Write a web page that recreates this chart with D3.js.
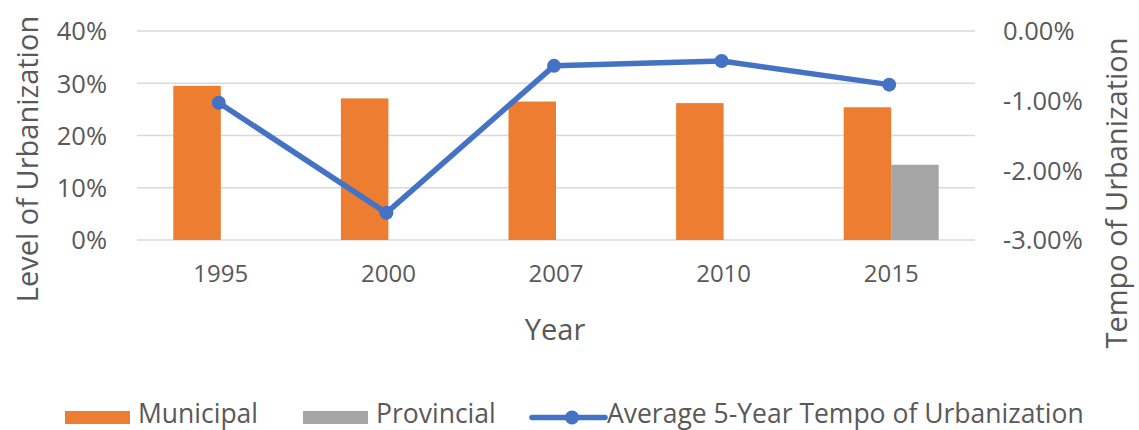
<!DOCTYPE html>
<html><head><meta charset="utf-8">
<script src="https://cdn.jsdelivr.net/npm/d3@7"></script>
<style>
body{margin:0;background:#fff;}
text{font-family:"Open Sans",sans-serif;fill:#595959;}
</style></head>
<body><svg id="c" width="1139" height="430"></svg>
<script>
const years = ["1995","2000","2007","2010","2015"];
const municipal = [0.295, 0.271, 0.265, 0.262, 0.254];
const provincial = [null, null, null, null, 0.144];
const tempo = [-0.0103, -0.0261, -0.0050, -0.0043, -0.0077];
const leftTicks = [0, 0.1, 0.2, 0.3, 0.4];
const rightTicks = [0, -0.01, -0.02, -0.03];
const seriesNames = ["Municipal","Provincial","Average 5-Year Tempo of Urbanization"];
const colors = {mun:"#ED7D31", prov:"#A5A5A5", line:"#4472C4"};

const svg = d3.select("#c");
const L=137, R=975, T=31, B=240;
const x = d3.scaleBand().domain(years).range([L,R]).paddingInner(0).paddingOuter(0);
const yL = d3.scaleLinear().domain([0,0.4]).range([B,T]);
const yR = d3.scaleLinear().domain([-0.03,0]).range([B,T]);
const barW = 47.5;
const fmtR = d => d3.format(".2%")(d).replace("\u2212","-");

// gridlines
svg.append("g").selectAll("line").data(leftTicks).join("line")
  .attr("x1",L).attr("x2",R).attr("y1",d=>yL(d)).attr("y2",d=>yL(d))
  .attr("stroke","#D9D9D9").attr("stroke-width",1.3);

// left axis labels
const axL = d3.axisLeft(yL).tickValues(leftTicks).tickFormat(d3.format(".0%")).tickSize(0).tickPadding(0);
const gL = svg.append("g").attr("transform","translate(107,0)").call(axL);
gL.select(".domain").remove();
gL.selectAll("text").style("font-size","25.5px").attr("fill","#595959").attr("dy","0.35em");

// right axis labels
const axR = d3.axisRight(yR).tickValues(rightTicks).tickFormat(fmtR).tickSize(0).tickPadding(0);
const gR = svg.append("g").attr("transform","translate(1003,0)").call(axR);
gR.select(".domain").remove();
gR.selectAll("text").style("font-size","25.5px").attr("fill","#595959").attr("dy","0.35em");

// x axis labels
const axX = d3.axisBottom(x).tickSize(0).tickPadding(0);
const gX = svg.append("g").attr("transform","translate(0,265)").call(axX);
gX.select(".domain").remove();
gX.selectAll("text").style("font-size","24px").attr("fill","#595959").attr("dy","0.71em");

// bars
svg.append("g").selectAll("rect").data(years).join("rect")
  .attr("x",d=>x(d)+x.bandwidth()/2-barW).attr("width",barW)
  .attr("y",(d,i)=>yL(municipal[i])).attr("height",(d,i)=>B-yL(municipal[i]))
  .attr("fill",colors.mun);
svg.append("g").selectAll("rect").data(years.filter((d,i)=>provincial[i]!=null)).join("rect")
  .attr("x",d=>x(d)+x.bandwidth()/2).attr("width",barW)
  .attr("y",d=>yL(provincial[years.indexOf(d)])).attr("height",d=>B-yL(provincial[years.indexOf(d)]))
  .attr("fill",colors.prov);

// line
const pts = years.map((d,i)=>[x(d)+x.bandwidth()/2-2, yR(tempo[i])]);
svg.append("path").attr("d",d3.line()(pts)).attr("fill","none")
  .attr("stroke",colors.line).attr("stroke-width",5.5).attr("stroke-linejoin","round");
svg.append("g").selectAll("circle").data(pts).join("circle")
  .attr("cx",d=>d[0]).attr("cy",d=>d[1]).attr("r",7).attr("fill",colors.line);

// axis titles
svg.append("text").attr("transform","translate(28,159) rotate(-90)")
  .attr("text-anchor","middle").attr("dy","0.35em").style("font-size","29px").text("Level of Urbanization");
svg.append("text").attr("transform","translate(1117,193) rotate(-90)")
  .attr("text-anchor","middle").attr("dy","0.35em").style("font-size","29px").text("Tempo of Urbanization");
svg.append("text").attr("x",555).attr("y",340)
  .attr("text-anchor","middle").style("font-size","29px").text("Year");

// legend
const lg = svg.append("g");
lg.append("rect").attr("x",65).attr("y",411).attr("width",65).attr("height",13).attr("fill",colors.mun);
lg.append("text").attr("x",138).attr("y",423).style("font-size","26.5px").text(seriesNames[0]);
lg.append("rect").attr("x",303).attr("y",411).attr("width",65).attr("height",13).attr("fill",colors.prov);
lg.append("text").attr("x",376).attr("y",423).style("font-size","26.5px").text(seriesNames[1]);
lg.append("line").attr("x1",532).attr("x2",605).attr("y1",417.5).attr("y2",417.5)
  .attr("stroke",colors.line).attr("stroke-width",5.5).attr("stroke-linecap","round");
lg.append("circle").attr("cx",572).attr("cy",417.5).attr("r",7).attr("fill",colors.line);
lg.append("text").attr("x",607).attr("y",423).style("font-size","26.5px").text(seriesNames[2]);
</script></body></html>
